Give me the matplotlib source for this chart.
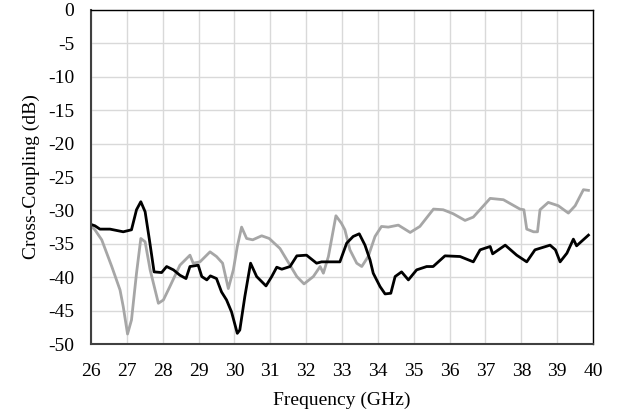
import matplotlib
matplotlib.use("Agg")
import matplotlib.pyplot as plt

plt.rcParams['font.family'] = ['Liberation Serif', 'DejaVu Serif']
plt.rcParams['axes.unicode_minus'] = False

# Black trace
freq_black = [26.0, 26.11, 26.25, 26.53, 26.9, 27.13, 27.27, 27.39, 27.51, 27.63, 27.76, 27.97,
              28.11, 28.3, 28.48, 28.65, 28.76, 28.99, 29.09, 29.23, 29.33, 29.5, 29.64, 29.78,
              29.92, 30.08, 30.15, 30.29, 30.45, 30.62, 30.88, 31.04, 31.18, 31.32, 31.55, 31.74,
              32.01, 32.29, 32.43, 32.75, 32.94, 33.13, 33.31, 33.48, 33.64, 33.78, 33.87, 34.06,
              34.2, 34.36, 34.48, 34.66, 34.85, 35.08, 35.36, 35.54, 35.87, 36.29, 36.66, 36.85,
              37.13, 37.2, 37.55, 37.87, 38.15, 38.38, 38.8, 38.95, 39.08, 39.27, 39.45, 39.54,
              39.87]
val_black = [-32.1, -32.3, -32.8, -32.8, -33.2, -32.9, -29.9, -28.7, -30.2, -34.4, -39.2, -39.3,
             -38.4, -38.9, -39.7, -40.2, -38.4, -38.2, -39.9, -40.4, -39.8, -40.2, -42.2, -43.4,
             -45.2, -48.4, -47.9, -42.9, -37.9, -39.9, -41.3, -39.9, -38.5, -38.8, -38.4, -36.8,
             -36.7, -37.9, -37.7, -37.7, -37.7, -34.9, -33.9, -33.5, -35.2, -37.4, -39.4, -41.4,
             -42.5, -42.4, -39.9, -39.2, -40.4, -38.9, -38.4, -38.4, -36.8, -36.9, -37.7, -35.9,
             -35.4, -36.5, -35.2, -36.7, -37.7, -35.9, -35.2, -35.9, -37.7, -36.4, -34.3, -35.3,
             -33.7]

# Gray trace
freq_gray = [26.0, 26.11, 26.3, 26.58, 26.81, 26.9, 27.02, 27.13, 27.27, 27.39, 27.51, 27.65,
             27.88, 28.02, 28.2, 28.48, 28.76, 28.85, 29.04, 29.32, 29.5, 29.67, 29.83, 29.97,
             30.08, 30.2, 30.34, 30.51, 30.76, 30.97, 31.27, 31.55, 31.74, 31.94, 32.2, 32.39,
             32.48, 32.62, 32.83, 32.98, 33.08, 33.22, 33.41, 33.55, 33.73, 33.92, 34.1, 34.29,
             34.57, 34.9, 35.17, 35.55, 35.82, 36.1, 36.43, 36.66, 37.13, 37.5, 37.96, 38.07,
             38.15, 38.34, 38.45, 38.52, 38.75, 39.03, 39.31, 39.5, 39.73, 39.87]
val_gray = [-32.3, -32.9, -34.4, -38.4, -41.9, -44.4, -48.5, -46.4, -39.4, -34.2, -34.7, -38.9,
            -43.9, -43.4, -41.4, -38.2, -36.7, -37.9, -37.7, -36.2, -36.9, -37.9, -41.7, -38.9,
            -35.4, -32.5, -34.2, -34.4, -33.8, -34.2, -35.7, -38.2, -39.9, -41.0, -39.9, -38.4,
            -39.4, -36.9, -30.8, -31.9, -32.9, -35.9, -37.9, -38.4, -36.9, -33.9, -32.4, -32.5,
            -32.2, -33.3, -32.4, -29.8, -29.9, -30.5, -31.5, -31.0, -28.2, -28.4, -29.8, -29.9,
            -32.8, -33.2, -33.2, -29.9, -28.8, -29.3, -30.4, -29.3, -26.9, -27.0]

x_ticks = list(range(26, 41))
y_ticks = list(range(-50, 1, 5))

fig = plt.figure(figsize=(6.23, 4.16), dpi=100)
ax = fig.add_axes([0.146, 0.173, 0.806, 0.803])

ax.plot(freq_gray, val_gray, color='#a6a6a6', lw=2.0, solid_joinstyle='round')
ax.plot(freq_black, val_black, color='black', lw=2.0, solid_joinstyle='round')

ax.set_xlim(26, 40)
ax.set_ylim(-50, 0)
ax.set_xticks(x_ticks)
ax.set_yticks(y_ticks)
ax.tick_params(length=0, labelsize=14)
ax.tick_params(axis='x', pad=14)
ax.tick_params(axis='y', pad=12)
ax.grid(True, color='#d9d9d9', lw=1)
ax.set_axisbelow(True)
for s in ax.spines.values():
    s.set_color('black')
    s.set_linewidth(1.0)
ax.spines['left'].set_color('#404040')
ax.spines['bottom'].set_color('#404040')
ax.spines['left'].set_linewidth(1.5)
ax.spines['bottom'].set_linewidth(1.5)

ax.set_xlabel('Frequency (GHz)', fontsize=14, labelpad=8)
ax.set_ylabel('Cross-Coupling (dB)', fontsize=14, labelpad=6)

fig.savefig('out.png', dpi=100)
